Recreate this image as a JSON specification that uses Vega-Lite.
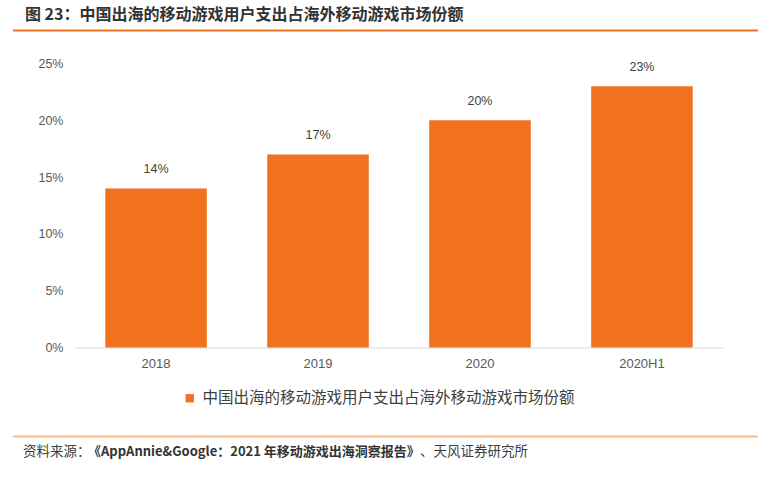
{
  "$schema": "https://vega.github.io/schema/vega-lite/v6.json",
  "width": 648,
  "height": 284,
  "autosize": {"type": "none"},
  "padding": {"left": 75, "top": 63.5, "right": 35, "bottom": 132.5},
  "background": "white",
  "config": {
    "view": {"stroke": null},
    "font": "Liberation Sans",
    "axis": {"grid": false, "ticks": false, "title": null, "labelColor": "#595959", "labelFont": "Liberation Sans"}
  },
  "data": {
    "values": [
      {"year": "2018", "share": 0.14, "series": "中国出海的移动游戏用户支出占海外移动游戏市场份额"},
      {"year": "2019", "share": 0.17, "series": "中国出海的移动游戏用户支出占海外移动游戏市场份额"},
      {"year": "2020", "share": 0.20, "series": "中国出海的移动游戏用户支出占海外移动游戏市场份额"},
      {"year": "2020H1", "share": 0.23, "series": "中国出海的移动游戏用户支出占海外移动游戏市场份额"}
    ]
  },
  "layer": [
    {
      "layer": [
        {
          "mark": {"type": "bar", "color": "#F0711E"},
          "encoding": {
            "x": {"field": "year", "type": "nominal", "sort": null,
                  "scale": {"paddingInner": 0.373, "paddingOuter": 0.187},
                  "axis": {"domain": true, "domainColor": "#D9D9D9", "domainWidth": 1, "labelAngle": 0, "labelFontSize": 13, "labelPadding": 10}},
            "y": {"field": "share", "type": "quantitative",
                  "scale": {"domain": [0, 0.25], "nice": false, "zero": true},
                  "axis": {"domain": false, "format": ".0%", "values": [0, 0.05, 0.1, 0.15, 0.2, 0.25], "labelFontSize": 12.5, "labelPadding": 12}},
            "color": {"field": "series", "type": "nominal",
                      "scale": {"range": ["#F0711E"]},
                      "legend": {"title": null, "orient": "none", "legendX": 107, "legendY": 327, "symbolType": "square", "symbolSize": 70, "symbolStrokeWidth": 0, "labelFontSize": 15.5, "labelFont": "Noto Sans CJK SC", "labelColor": "#404040", "labelLimit": 600, "labelOffset": 5}}
          }
        },
        {
          "mark": {"type": "text", "baseline": "middle", "dy": -19, "fontSize": 12.5, "color": "#404040", "font": "Liberation Sans"},
          "encoding": {
            "x": {"field": "year", "type": "nominal", "sort": null},
            "y": {"field": "share", "type": "quantitative"},
            "text": {"field": "share", "type": "quantitative", "format": ".0%"}
          }
        }
      ]
    },
    {
      "data": {"values": [{}]},
      "layer": [
        {
          "mark": {"type": "rule", "color": "#F0711E", "strokeWidth": 2},
          "encoding": {
            "x": {"datum": -0.0957, "type": "quantitative", "scale": {"domain": [0, 1], "nice": false, "zero": false}, "axis": null},
            "x2": {"datum": 1.054},
            "y": {"datum": 0.279, "type": "quantitative"}
          }
        },
        {
          "mark": {"type": "rule", "color": "#F8B98C", "strokeWidth": 2},
          "encoding": {
            "x": {"datum": -0.0957, "type": "quantitative"},
            "x2": {"datum": 1.054},
            "y": {"datum": -0.0783, "type": "quantitative"}
          }
        },
        {
          "mark": {"type": "text", "align": "left", "baseline": "middle", "fontSize": 16, "fontWeight": "bold", "font": "Noto Sans CJK SC", "color": "#333333", "text": "图 23：中国出海的移动游戏用户支出占海外移动游戏市场份额"},
          "encoding": {
            "x": {"datum": -0.0772, "type": "quantitative"},
            "y": {"datum": 0.2931, "type": "quantitative"}
          }
        },
        {
          "mark": {"type": "text", "align": "left", "baseline": "middle", "fontSize": 13.5, "font": "Noto Sans CJK SC", "color": "#404040", "text": "资料来源："},
          "encoding": {
            "x": {"datum": -0.0802, "type": "quantitative"},
            "y": {"datum": -0.092, "type": "quantitative"}
          }
        },
        {
          "mark": {"type": "text", "align": "left", "baseline": "middle", "fontSize": 13, "fontWeight": "bold", "font": "Noto Sans CJK SC", "color": "#333333", "text": "《AppAnnie&Google：2021 年移动游戏出海洞察报告》"},
          "encoding": {
            "x": {"datum": 0.0201, "type": "quantitative"},
            "y": {"datum": -0.092, "type": "quantitative"}
          }
        },
        {
          "mark": {"type": "text", "align": "right", "baseline": "middle", "fontSize": 13.5, "font": "Noto Sans CJK SC", "color": "#404040", "text": "、天风证券研究所"},
          "encoding": {
            "x": {"datum": 0.699, "type": "quantitative"},
            "y": {"datum": -0.092, "type": "quantitative"}
          }
        }
      ]
    }
  ],
  "resolve": {"scale": {"x": "independent"}, "axis": {"x": "independent"}}
}
